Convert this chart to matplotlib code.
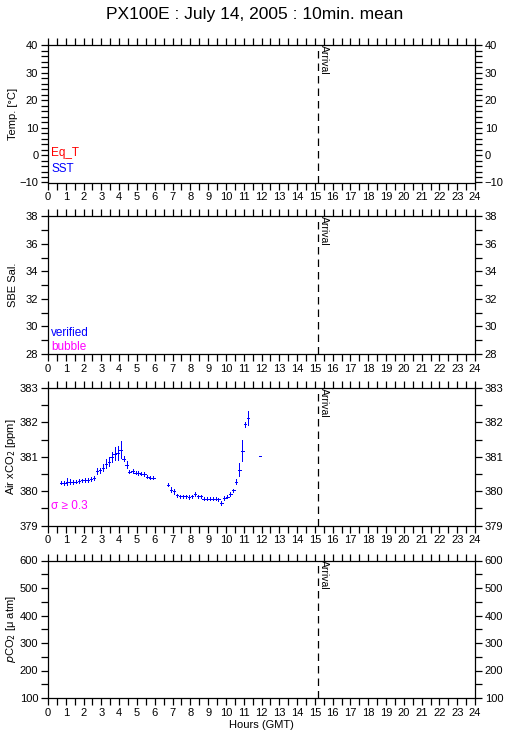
# px100e_10min.py
# PX100E daily summary: temperature, salinity, air xCO2 and pCO2 (10-min means)

import matplotlib
matplotlib.use("Agg")
import matplotlib.pyplot as plt
from matplotlib.ticker import MultipleLocator

plt.rcParams["font.family"] = ["Liberation Sans", "DejaVu Sans"]

# ------------ Data -------------
# air xCO2, 10-min means (hours GMT), first leg
hours_a = [0.75, 0.92, 1.08, 1.25, 1.42, 1.58, 1.75, 1.92, 2.08, 2.25, 2.42,
           2.58, 2.75, 2.92, 3.08, 3.25, 3.42, 3.58, 3.75, 3.92, 4.08, 4.25,
           4.42, 4.58, 4.75, 4.92, 5.08, 5.25, 5.42, 5.58, 5.75, 5.92]
xco2_a = [380.25, 380.24, 380.27, 380.28, 380.27, 380.28, 380.30, 380.31,
          380.32, 380.33, 380.35, 380.38, 380.59, 380.60, 380.68, 380.80,
          380.86, 380.99, 381.09, 381.11, 381.21, 380.94, 380.77, 380.57,
          380.59, 380.54, 380.53, 380.51, 380.50, 380.42, 380.39, 380.39]
sd_a = [0.05, 0.06, 0.10, 0.06, 0.05, 0.05, 0.05, 0.05, 0.05, 0.05, 0.05,
        0.05, 0.08, 0.08, 0.10, 0.12, 0.12, 0.15, 0.19, 0.20, 0.24, 0.07,
        0.11, 0.05, 0.05, 0.05, 0.05, 0.05, 0.05, 0.05, 0.05, 0.05]

# second leg
hours_b = [6.75, 6.92, 7.08, 7.25, 7.42, 7.58, 7.75, 7.92, 8.08, 8.25, 8.42,
           8.58, 8.75, 8.92, 9.08, 9.25, 9.42, 9.58, 9.75, 9.92, 10.08, 10.25,
           10.42, 10.58, 10.75, 10.92, 11.08, 11.25, 11.92]
xco2_b = [380.19, 380.04, 379.99, 379.88, 379.85, 379.85, 379.85, 379.83,
          379.85, 379.91, 379.85, 379.85, 379.78, 379.78, 379.78, 379.78,
          379.78, 379.76, 379.66, 379.80, 379.84, 379.91, 380.02, 380.28,
          380.62, 381.18, 381.94, 382.12, 381.03]
sd_b = [0.05, 0.07, 0.06, 0.05, 0.05, 0.05, 0.05, 0.05, 0.05, 0.06, 0.05,
        0.05, 0.05, 0.05, 0.05, 0.05, 0.05, 0.05, 0.05, 0.05, 0.05, 0.05,
        0.05, 0.08, 0.19, 0.31, 0.08, 0.20, 0.0]

arrival = 15.2
title = "PX100E : July 14, 2005 : 10min. mean"

# panel settings: ylabel, ylim, major, minor
panels = [
    ("Temp. [\u00b0C]", (-10, 40), 10, 2),
    ("SBE Sal.", (28, 38), 2, 1),
    ("Air xCO$_2$ [ppm]", (379, 383), 1, 0.5),
    ("$p$CO$_2$ [\u03bc atm]", (100, 600), 100, 50),
]
# -------------------------------

W, H = 509, 739
fig = plt.figure(figsize=(W / 100, H / 100), dpi=100)
fig.text(0.5, 1 - 15 / H, title, ha="center", va="center", fontsize=12.5)

tops = [45, 216.5, 388, 560.5]
ph = 137.5
left, right = 48, 475

axes = []
for (ylab, ylim, maj, mnr), top in zip(panels, tops):
    ax = fig.add_axes([left / W, 1 - (top + ph) / H, (right - left) / W, ph / H])
    ax.set_xlim(0, 24)
    ax.set_ylim(*ylim)
    ax.xaxis.set_major_locator(MultipleLocator(1))
    ax.xaxis.set_minor_locator(MultipleLocator(0.5))
    ax.yaxis.set_major_locator(MultipleLocator(maj))
    ax.yaxis.set_minor_locator(MultipleLocator(mnr))
    ax.tick_params(which="both", direction="out", length=5, width=0.9,
                   top=True, right=True, labelright=True, labelsize=8, pad=2)
    for sp in ax.spines.values():
        sp.set_linewidth(0.9)
    ax.set_ylabel(ylab, fontsize=8)
    ax.yaxis.set_label_coords(-0.071, 0.5)
    ax.axvline(arrival, color="black", lw=0.9, ls=(0, (6, 4)))
    ax.text(arrival + 0.05, ylim[1], "Arrival", rotation=270, ha="left",
            va="top", fontsize=7.5)
    axes.append(ax)

ax1, ax2, ax3, ax4 = axes

ax1.text(0.008, 0.195, "Eq_T", color="red", transform=ax1.transAxes, fontsize=8.5)
ax1.text(0.008, 0.08, "SST", color="blue", transform=ax1.transAxes, fontsize=8.5)
ax2.text(0.008, 0.13, "verified", color="blue", transform=ax2.transAxes, fontsize=8.5)
ax2.text(0.008, 0.03, "bubble", color="magenta", transform=ax2.transAxes, fontsize=8.5)

for hrs, vals, sds in [(hours_a, xco2_a, sd_a), (hours_b, xco2_b, sd_b)]:
    eb = ax3.errorbar(hrs, vals, xerr=0.07, yerr=sds, fmt="none",
                      ecolor="blue", elinewidth=0.6, capsize=0)
    for lc in eb.lines[2]:
        lc.set_antialiased(False)
ax3.text(0.008, 0.12, "\u03c3 \u2265 0.3", color="magenta",
         transform=ax3.transAxes, fontsize=8.5)

ax4.set_xlabel("Hours (GMT)", fontsize=8, labelpad=2)

fig.savefig("out.png", dpi=100)
